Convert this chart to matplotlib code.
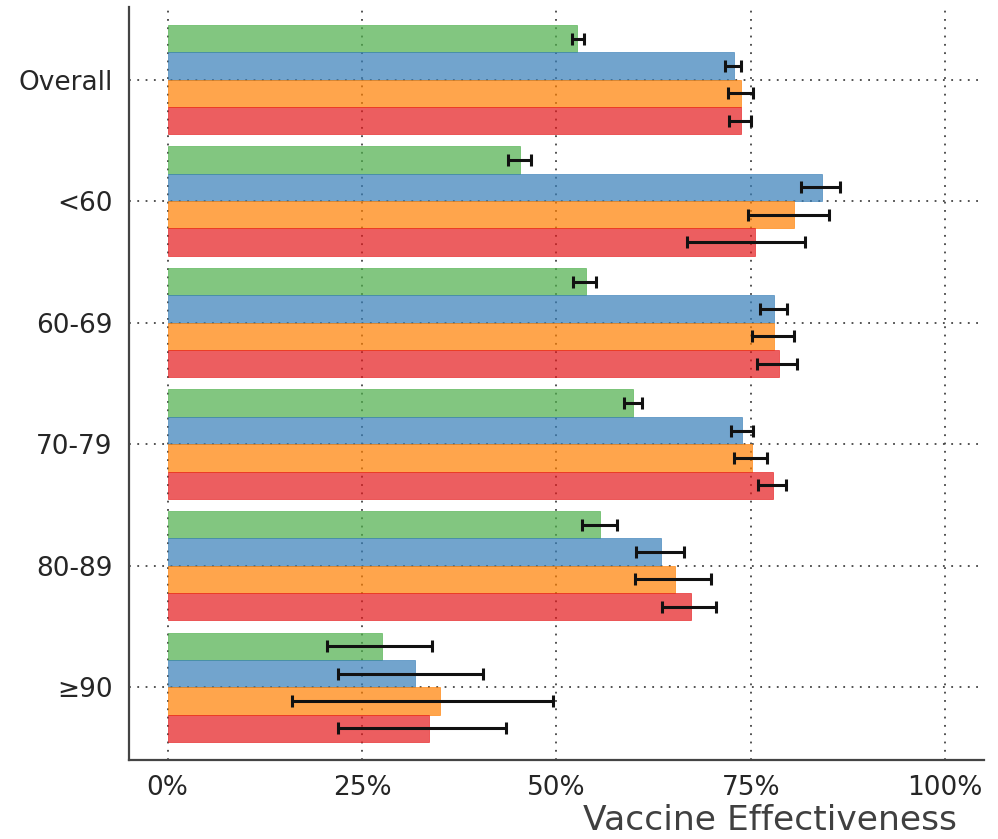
import matplotlib
matplotlib.use("Agg")
import matplotlib.pyplot as plt
import numpy as np
from matplotlib.ticker import PercentFormatter

# Data (percent)
groups = ["Overall", "<60", "60-69", "70-79", "80-89", "≥90"]

green_ve = [52.7, 45.3, 53.8, 59.8, 55.6, 27.6]
green_lo = [52.0, 43.8, 52.2, 58.7, 53.3, 20.5]
green_hi = [53.5, 46.7, 55.1, 61.0, 57.8, 34.0]

blue_ve = [72.8, 84.2, 78.0, 73.9, 63.5, 31.8]
blue_lo = [71.7, 81.5, 76.2, 72.4, 60.3, 21.9]
blue_hi = [73.7, 86.5, 79.6, 75.3, 66.4, 40.5]

orange_ve = [73.8, 80.5, 78.0, 75.1, 65.3, 35.0]
orange_lo = [72.1, 74.7, 75.2, 72.8, 60.1, 16.0]
orange_hi = [75.3, 85.0, 80.6, 77.1, 69.9, 49.6]

red_ve = [73.7, 75.6, 78.6, 77.8, 67.3, 33.6]
red_lo = [72.2, 66.8, 75.8, 75.9, 63.6, 21.9]
red_hi = [75.0, 82.0, 80.9, 79.5, 70.5, 43.5]

series = [
    (green_ve, green_lo, green_hi, "#4daf4a"),
    (blue_ve, blue_lo, blue_hi, "#377eb8"),
    (orange_ve, orange_lo, orange_hi, "#ff7f00"),
    (red_ve, red_lo, red_hi, "#e41a1c"),
]

fig = plt.figure(figsize=(9.98, 8.39), dpi=100)
ax = fig.add_axes([0.129, 0.094, 0.857, 0.898])

y = np.arange(len(groups))
h = 0.225
for i, (ve, lo, hi, color) in enumerate(series):
    ve = np.array(ve) / 100
    lo = np.array(lo) / 100
    hi = np.array(hi) / 100
    pos = y + (i - 1.5) * h
    ax.barh(pos, ve, height=h, color=color, alpha=0.7, edgecolor=color, linewidth=0.6, zorder=2)
    ax.errorbar(ve, pos, xerr=[ve - lo, hi - ve], fmt="none", ecolor="#111111",
                elinewidth=2.2, capsize=4.3, capthick=2.2, zorder=3)

ax.set_xlim(-0.05, 1.05)
ax.set_ylim(5.6, -0.6)
ax.set_yticks(y)
ax.set_yticklabels(groups)
ax.set_xticks([0, 0.25, 0.5, 0.75, 1.0])
ax.xaxis.set_major_formatter(PercentFormatter(1.0, decimals=0))

# sparse dotted grid like the reference
ax.grid(True, linestyle=(0, (1, 3.6)), color="#444444", linewidth=1.3, zorder=2.5)
for side in ["top", "right"]:
    ax.spines[side].set_visible(False)
for side in ["left", "bottom"]:
    ax.spines[side].set_color("#444444")
    ax.spines[side].set_linewidth(1.6)

ax.tick_params(axis="both", length=0, labelsize=19, labelcolor="#262626")
ax.tick_params(axis="x", pad=11)
ax.tick_params(axis="y", pad=11.5)

ax.set_xlabel("Vaccine Effectiveness", fontsize=24.8, color="#404040", ha="right")
ax.xaxis.set_label_coords(0.968, -0.058)

plt.savefig("out.png", dpi=100)
plt.close()
